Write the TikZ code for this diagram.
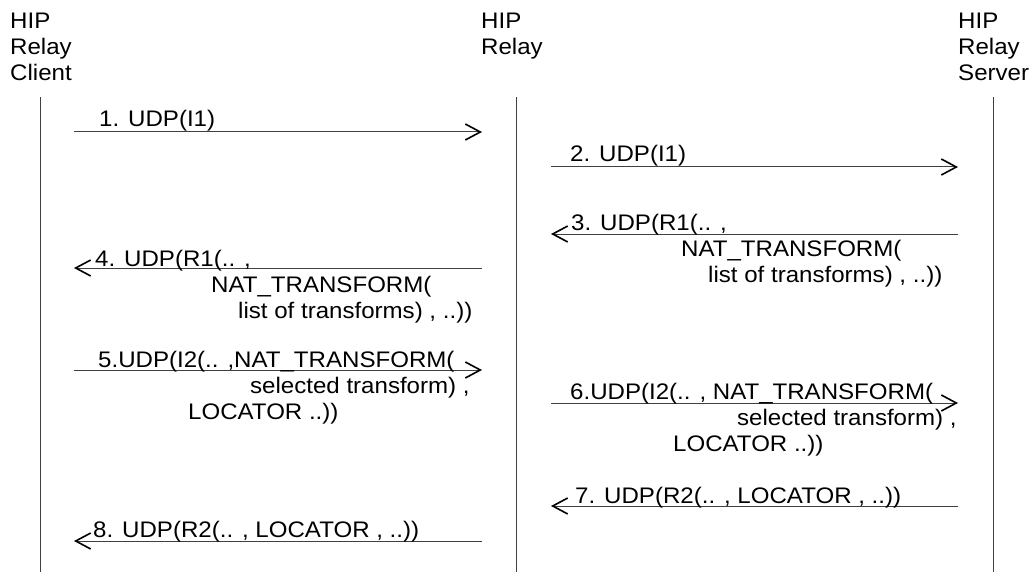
\documentclass[tikz,border=0pt]{standalone}
\usepackage{fontspec}
\setmainfont[FakeStretch=1.07]{Liberation Sans}
\usetikzlibrary{arrows.meta}

\begin{document}
\begin{tikzpicture}[
  x=1pt, y=-1pt,
  font=\fontsize{22.5}{26}\selectfont,
  life/.style={draw=black!75, line width=1pt},
  msg/.style={draw=black!75, line width=1pt,
              -{Straight Barb[length=15pt,width=16pt,line width=1.6pt,color=black]}},
  actor/.style={anchor=base west, align=left, inner sep=0pt},
  label/.style={anchor=base west, align=left, inner sep=0pt}
]
\useasboundingbox (0,0) rectangle (1033,572);

% Actors (base = baseline of the last line)
\node[actor] (client) at (10,81) {HIP\\Relay\\Client};
\node[actor] (relay) at (481,55) {HIP\\Relay};
\node[actor] (server) at (958,81) {HIP\\Relay\\Server};

% Lifelines
\coordinate (clt) at (40.5,97);
\coordinate (clb) at (40.5,572);
\coordinate (rlt) at (516,97);
\coordinate (rlb) at (516,572);
\coordinate (slt) at (993,97);
\coordinate (slb) at (993,572);

\draw[life] (clt) -- (clb);
\draw[life] (rlt) -- (rlb);
\draw[life] (slt) -- (slb);

% Arrow ends next to the lifelines
\coordinate (cx) at (74,0);
\coordinate (rxl) at (482,0);
\coordinate (rxr) at (551,0);
\coordinate (sx) at (958,0);

% Message heights
\coordinate (m1) at (0,132);
\coordinate (m2) at (0,167);
\coordinate (m3) at (0,234);
\coordinate (m4) at (0,268);
\coordinate (m5) at (0,370);
\coordinate (m6) at (0,403);
\coordinate (m7) at (0,506);
\coordinate (m8) at (0,541);

% Messages
\draw[msg] (cx |- m1) -- (rxl |- m1);
\draw[msg] (rxr |- m2) -- (sx |- m2);
\draw[msg] (sx |- m3) -- (rxr |- m3);
\draw[msg] (rxl |- m4) -- (cx |- m4);
\draw[msg] (cx |- m5) -- (rxl |- m5);
\draw[msg] (rxr |- m6) -- (sx |- m6);
\draw[msg] (sx |- m7) -- (rxr |- m7);
\draw[msg] (rxl |- m8) -- (cx |- m8);

% Labels (base = baseline of the last line)
\node[label] (l1) at (99,127) {1. UDP(I1)};
\node[label] (l2) at (570,162) {2. UDP(I1)};
\node[label] (l3) at (571,282) {3. UDP(R1(.. ,\\
  \hspace*{110pt}NAT\_TRANSFORM(\\
  \hspace*{137pt}list of transforms) , ..))};
\node[label] (l4) at (95,318) {4. UDP(R1(.. ,\\
  \hspace*{116pt}NAT\_TRANSFORM(\\
  \hspace*{143pt}list of transforms) , ..))};
\node[label] (l5) at (98,419) {5.UDP(I2(.. ,NAT\_TRANSFORM(\\
  \hspace*{152pt}selected transform) ,\\
  \hspace*{90pt}LOCATOR ..))};
\node[label] (l6) at (570,451) {6.UDP(I2(.. , NAT\_TRANSFORM(\\
  \hspace*{167pt}selected transform) ,\\
  \hspace*{103pt}LOCATOR ..))};
\node[label] (l7) at (575,503) {7. UDP(R2(.. , LOCATOR , ..))};
\node[label] (l8) at (93,537) {8. UDP(R2(.. , LOCATOR , ..))};

\end{tikzpicture}
\end{document}
